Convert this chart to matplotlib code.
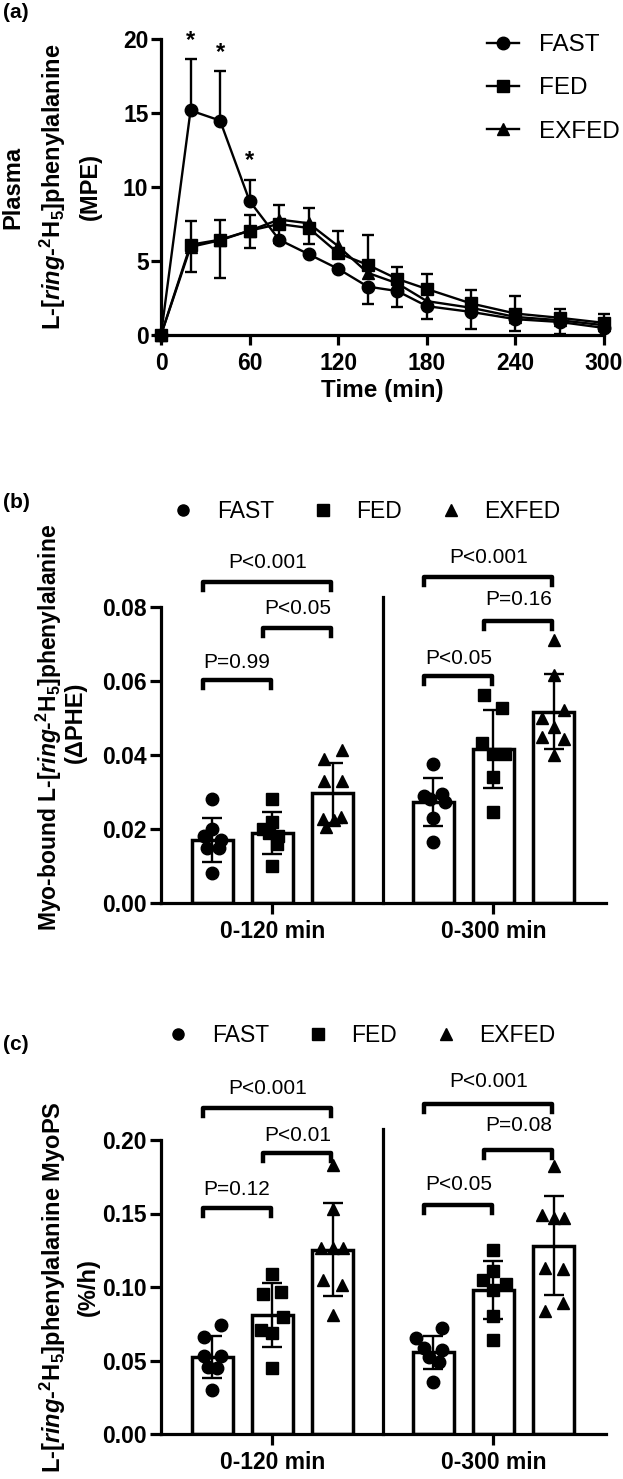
import matplotlib
matplotlib.use('Agg')
import matplotlib.pyplot as plt
from matplotlib.lines import Line2D
import numpy as np

plt.rcParams['font.family'] = 'Liberation Sans'
plt.rcParams['font.weight'] = 'bold'
plt.rcParams['axes.labelweight'] = 'bold'
plt.rcParams['mathtext.fontset'] = 'custom'
plt.rcParams['mathtext.rm'] = 'Liberation Sans:bold'
plt.rcParams['mathtext.it'] = 'Liberation Sans:italic:bold'
plt.rcParams['mathtext.bf'] = 'Liberation Sans:bold'

# ---- data: panel (a) plasma enrichment (MPE) ----
time = [0, 20, 40, 60, 80, 100, 120, 140, 160, 180, 210, 240, 270, 300]
fast_mpe = [0, 15.17, 14.49, 9.05, 6.44, 5.46, 4.47, 3.27, 2.97, 1.95, 1.56, 1.07, 0.88, 0.48]
fed_mpe = [0, 6.10, 6.44, 7.05, 7.50, 7.23, 5.53, 4.74, 3.79, 3.11, 2.13, 1.45, 1.16, 0.82]
exfed_mpe = [0, 5.95, 6.40, 7.05, 7.80, 7.55, 6.00, 4.20, 3.49, 2.29, 1.84, 1.22, 1.00, 0.66]
fast_err_up = [0, 3.45, 3.33, 1.41, 0, 0, 0, 0, 0, 0, 0, 0, 0, 0]
fast_err_lo = [0, 0, 0, 0, 0, 0, 0, 1.18, 1.07, 0.84, 1.17, 0.82, 0.79, 0]
fed_err_up = [0, 1.59, 1.36, 1.05, 1.28, 1.32, 1.47, 2.04, 0.79, 0.99, 0.91, 1.20, 0.59, 0.59]
fed_err_lo = [0, 1.82, 2.61, 1.18, 1.28, 1.08, 0, 0, 0, 0, 0, 0, 0, 0]
star_times = [20, 40, 60]

# ---- data: panels (b) and (c) ----
groups = ['0-120 min', '0-300 min']
conds = ['FAST', 'FED', 'EXFED']

phe_mean = [0.0170, 0.0189, 0.0297, 0.0272, 0.0416, 0.0517]
phe_sd = [0.0060, 0.0056, 0.0081, 0.0065, 0.0105, 0.0101]
phe_pts = [
    [0.028, 0.020, 0.018, 0.017, 0.015, 0.015, 0.008],
    [0.028, 0.022, 0.020, 0.019, 0.018, 0.016, 0.010],
    [0.0414, 0.039, 0.033, 0.033, 0.0232, 0.0227, 0.0225, 0.0205],
    [0.0375, 0.0295, 0.0289, 0.028, 0.0273, 0.0229, 0.0166],
    [0.0562, 0.0526, 0.0433, 0.0403, 0.0403, 0.034, 0.0247],
    [0.0711, 0.0616, 0.0522, 0.0499, 0.0475, 0.045, 0.0442, 0.040],
]
phe_jit = [
    [0, 0, -0.14, 0.14, -0.08, 0.11, 0],
    [0, 0, -0.15, -0.05, 0.10, 0.07, 0],
    [0.16, -0.14, -0.14, 0.16, 0.14, -0.16, 0.02, -0.1],
    [0, 0.15, -0.16, -0.05, 0.19, 0, 0],
    [-0.15, 0.15, -0.19, 0, 0.19, 0, 0],
    [0, 0, 0.18, -0.19, 0, -0.19, 0.18, 0],
]

fsr_mean = [0.0526, 0.0810, 0.1254, 0.0556, 0.0979, 0.1280]
fsr_sd = [0.0144, 0.0215, 0.0318, 0.0113, 0.0200, 0.0337]
fsr_pts = [
    [0.0741, 0.0662, 0.053, 0.053, 0.0458, 0.0449, 0.0299],
    [0.1088, 0.0968, 0.0952, 0.0798, 0.0707, 0.0689, 0.0447],
    [0.183, 0.1529, 0.1263, 0.1263, 0.1263, 0.1048, 0.1014, 0.081],
    [0.0719, 0.0651, 0.0583, 0.0571, 0.0526, 0.0492, 0.0356],
    [0.125, 0.111, 0.105, 0.102, 0.098, 0.080, 0.064],
    [0.182, 0.149, 0.147, 0.147, 0.113, 0.112, 0.089, 0.084],
]
fsr_jit = [
    [0.14, -0.14, -0.14, 0.14, -0.07, 0.08, 0],
    [0, 0.15, -0.15, 0.18, -0.19, 0, 0],
    [0, 0, -0.19, 0, 0.18, -0.15, 0.15, 0],
    [0.15, -0.29, -0.15, 0.15, -0.07, 0.10, 0],
    [0, 0, -0.18, 0.20, 0, 0, 0],
    [0, -0.19, 0, 0.18, -0.15, 0.15, 0.15, -0.15],
]

# brackets: (left bar, right bar, bracket y, text y, label)
phe_brackets = [
    (0, 1, 0.0603, 0.0649, 'P=0.99'),
    (1, 2, 0.0743, 0.0797, 'P<0.05'),
    (0, 2, 0.0868, 0.0919, 'P<0.001'),
    (3, 4, 0.0614, 0.0662, 'P<0.05'),
    (4, 5, 0.0762, 0.0819, 'P=0.16'),
    (3, 5, 0.0881, 0.0935, 'P<0.001'),
]
fsr_brackets = [
    (0, 1, 0.1535, 0.166, 'P=0.12'),
    (1, 2, 0.191, 0.2034, 'P<0.01'),
    (0, 2, 0.222, 0.2352, 'P<0.001'),
    (3, 4, 0.1558, 0.170, 'P<0.05'),
    (4, 5, 0.1932, 0.210, 'P=0.08'),
    (3, 5, 0.2245, 0.2397, 'P<0.001'),
]

W, H = 623, 1479
fig = plt.figure(figsize=(W / 100, H / 100), dpi=100)

def px(x0, y0, x1, y1):
    return [x0 / W, 1 - y1 / H, (x1 - x0) / W, (y1 - y0) / H]

def style(ax):
    for s in ['top', 'right']:
        ax.spines[s].set_visible(False)
    for s in ['left', 'bottom']:
        ax.spines[s].set_linewidth(2.3)
    ax.tick_params(direction='out', length=8, width=2.3, labelsize=16.5, pad=2)

# ---------------- (a) ----------------
ax = fig.add_axes(px(161, 39, 604, 335))
style(ax)
ax.tick_params(axis='x', pad=5, length=7)
ax.tick_params(axis='y', length=7)
t = np.array(time)
lo = np.array(fast_err_lo); up = np.array(fast_err_up)
m = (lo > 0) | (up > 0)
ax.errorbar(t[m], np.array(fast_mpe)[m], yerr=[lo[m], up[m]], fmt='none', ecolor='black',
            elinewidth=1.7, capsize=4.5, capthick=1.7, clip_on=False)
lo = np.array(fed_err_lo); up = np.array(fed_err_up)
m = (lo > 0) | (up > 0)
ax.errorbar(t[m], np.array(fed_mpe)[m], yerr=[lo[m], up[m]], fmt='none', ecolor='black',
            elinewidth=1.7, capsize=4.5, capthick=1.7, clip_on=False)
ax.plot(time, fast_mpe, '-o', color='black', lw=1.7, ms=9, label='FAST', clip_on=False, zorder=4)
ax.plot(time, fed_mpe, '-s', color='black', lw=1.7, ms=8.5, label='FED', clip_on=False, zorder=4)
ax.plot(time, exfed_mpe, '-^', color='black', lw=1.7, ms=9, label='EXFED', clip_on=False, zorder=4)
for st in star_times:
    k = time.index(st)
    ax.text(st, fast_mpe[k] + fast_err_up[k] + 1.3, '*', ha='center', va='center', fontsize=17)
ax.set_xlim(0, 300)
ax.set_ylim(0, 20)
ax.set_xticks([0, 60, 120, 180, 240, 300])
ax.set_yticks([0, 5, 10, 15, 20])
ax.set_xlabel('Time (min)', fontsize=17.5, labelpad=3)
ax.legend(loc='upper left', bbox_to_anchor=(487 / W, 1 - 34 / H), bbox_transform=fig.transFigure,
          frameon=False, prop={'size': 17.5, 'weight': 'normal'}, handlelength=1.3,
          handletextpad=0.85, labelspacing=0.88, borderpad=0, borderaxespad=0)

lab2 = r'L-[$\mathit{ring}$-$^{2}$H$_{5}$]phenylalanine'
fig.text(12.5 / W, 1 - 187 / H, 'Plasma', rotation=90, ha='center', va='center', fontsize=17)
fig.text(53 / W, 1 - 187 / H, lab2, rotation=90, ha='center', va='center', fontsize=17)
fig.text(90 / W, 1 - 187 / H, '(MPE)', rotation=90, ha='center', va='center', fontsize=17)
fig.text(3 / W, 1 - 13 / H, '(a)', ha='left', va='center', fontsize=15)

# ---------------- (b), (c) ----------------
pos = [0, 1, 2, 3.675, 4.675, 5.675]
markers = ['o', 's', '^']
msizes = [9, 8, 9]

def bar_panel(ax, means, sds, pts, jit, ytop, yticks, brackets, sep_top, leg):
    style(ax)
    ax.tick_params(axis='x', pad=4)
    ax.bar(pos, means, width=0.68, color='white', edgecolor='black', linewidth=2.5, zorder=1)
    for k in range(len(pos)):
        xs = pos[k] + np.array(jit[k])
        ax.plot(xs, pts[k], ls='none', marker=markers[k % 3], ms=msizes[k % 3],
                color='black', zorder=3, clip_on=False)
    ax.errorbar(pos, means, yerr=sds, fmt='none', ecolor='black', elinewidth=1.7,
                capsize=7.5, capthick=1.7, zorder=4)
    xsep = (pos[2] + pos[3]) / 2
    ax.plot([xsep, xsep], [0, sep_top], color='black', lw=2.3, clip_on=False)
    leg_h = ytop * 0.027
    for i, j, yb, yt, lab in brackets:
        x1 = pos[i] - 0.15
        x2 = pos[j] - 0.02
        ax.plot([x1, x1, x2, x2], [yb - leg_h, yb, yb, yb - leg_h], color='black', lw=3.2,
                clip_on=False, solid_joinstyle='round')
        ax.text((x1 + x2) / 2, yt, lab, ha='center', va='center', fontsize=15,
                fontweight='normal')
    ax.set_xlim(-0.85, 6.545)
    ax.set_ylim(0, ytop)
    ax.set_xticks([pos[1], pos[4]])
    ax.set_xticklabels(groups)
    ax.set_yticks(yticks)
    ax.set_yticklabels(['%.2f' % v for v in yticks])
    handles = [Line2D([], [], ls='none', marker=markers[k], ms=8, color='black') for k in range(3)]
    ax.legend(handles, conds, loc='center left', bbox_to_anchor=leg, bbox_transform=fig.transFigure,
              ncol=3, frameon=False, prop={'size': 16.5, 'weight': 'normal'}, handlelength=1.0,
              handletextpad=0.95, columnspacing=1.65, borderpad=0, borderaxespad=0)

ax = fig.add_axes(px(161, 607, 606, 903))
bar_panel(ax, phe_mean, phe_sd, phe_pts, phe_jit, 0.08, [0, 0.02, 0.04, 0.06, 0.08],
          phe_brackets, 0.0827, (172 / W, 1 - 512 / H))
lab_b = r'Myo-bound L-[$\mathit{ring}$-$^{2}$H$_{5}$]phenylalanine'
fig.text(49 / W, 1 - 727 / H, lab_b, rotation=90, ha='center', va='center', fontsize=16.5)
fig.text(75 / W, 1 - 722 / H, '(ΔPHE)', rotation=90, ha='center', va='center', fontsize=17)
fig.text(3 / W, 1 - 503 / H, '(b)', ha='left', va='center', fontsize=15)

ax = fig.add_axes(px(161, 1140, 606, 1434))
bar_panel(ax, fsr_mean, fsr_sd, fsr_pts, fsr_jit, 0.2, [0, 0.05, 0.10, 0.15, 0.20],
          fsr_brackets, 0.2075, (167 / W, 1 - 1036 / H))
lab_c = r'L-[$\mathit{ring}$-$^{2}$H$_{5}$]phenylalanine MyoPS'
fig.text(53 / W, 1 - 1287 / H, lab_c, rotation=90, ha='center', va='center', fontsize=17)
fig.text(88 / W, 1 - 1287 / H, '(%/h)', rotation=90, ha='center', va='center', fontsize=17)
fig.text(3 / W, 1 - 1045 / H, '(c)', ha='left', va='center', fontsize=15)

fig.savefig('out.png', dpi=100)
